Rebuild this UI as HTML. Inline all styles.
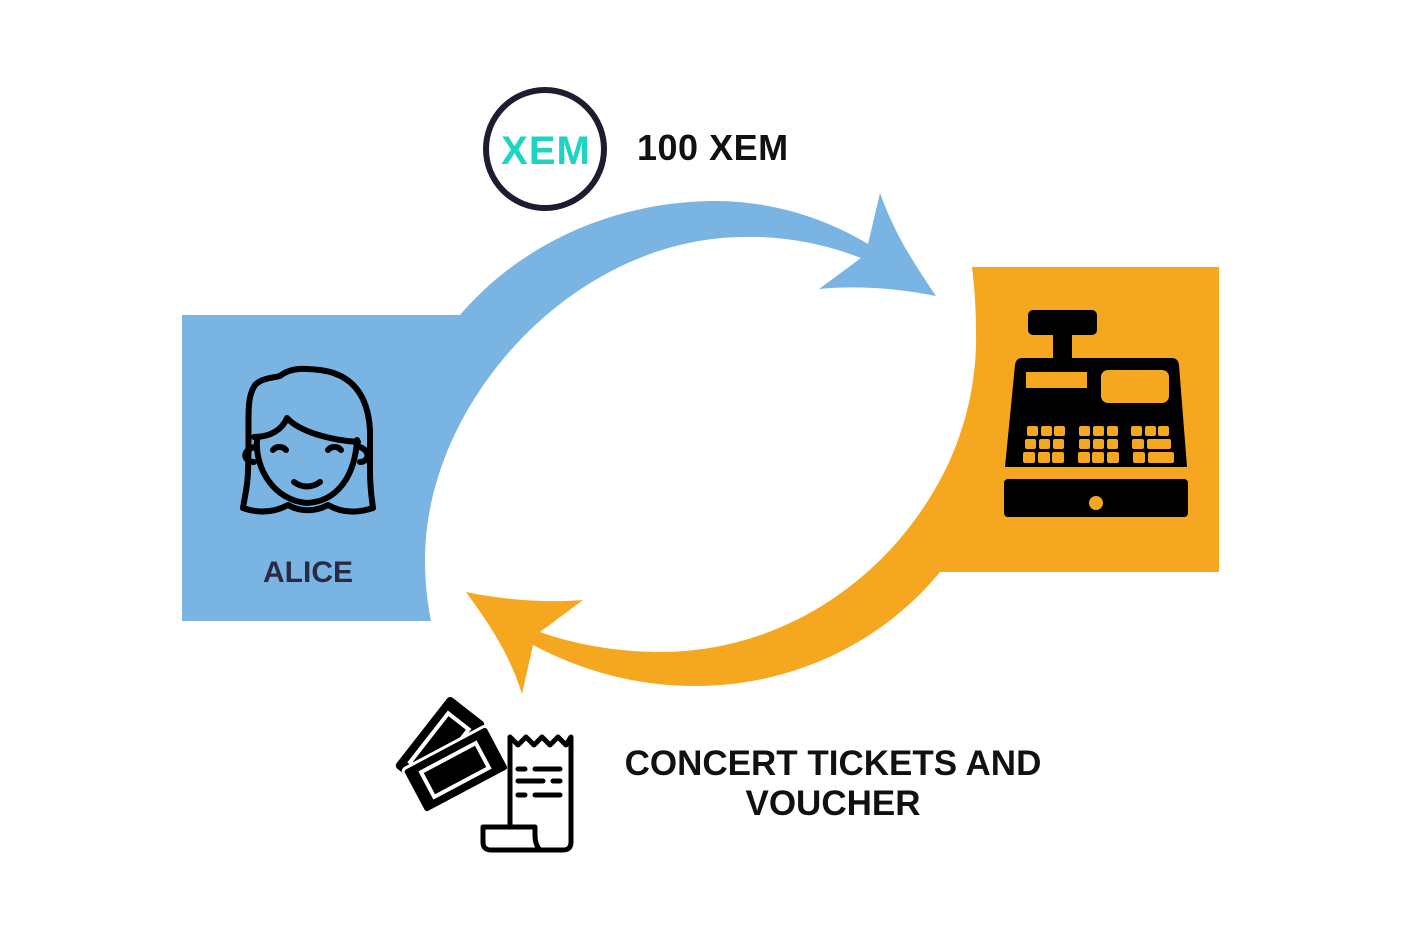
<!DOCTYPE html>
<html><head><meta charset="utf-8"><style>
html,body{margin:0;padding:0;background:#fff;}
svg{display:block}
text{font-family:"Liberation Sans",sans-serif;}
</style></head><body>
<svg width="1402" height="939" viewBox="0 0 1402 939" xmlns="http://www.w3.org/2000/svg">
<path fill="#7ab4e3" d="M182,315 L460,315 C520,245 610,203 710,201 C770,200 825,218 868,244 L880,193 C895,235 915,265 936,296 C900,289 860,285 819,289 L861,258 C825,244 785,236 745,237 C640,237 540,300 480,390 C440,450 425,510 425,560 C425,585 428,605 431,621 L182,621 Z"/>
<path fill="#f5a81f" d="M972,267 L1219,267 L1219,572 L940,572 C880,645 790,686 695,686 C635,686 580,670 533,645 L522,694 C510,655 490,625 466,592 C505,600 545,603 583,600 L540,632 C585,648 630,652 660,652 C790,652 900,570 950,460 C970,415 977,370 976,330 C976,305 974,285 972,267 Z"/>
<circle cx="545" cy="149" r="59" fill="#fff" stroke="#1e1c2e" stroke-width="6"/>
<text x="546" y="164" text-anchor="middle" font-size="40" font-weight="bold" fill="#1dd3c1" letter-spacing="1">XEM</text>
<text x="637" y="160" font-size="36" font-weight="bold" fill="#111" letter-spacing="0.5">100 XEM</text>
<g fill="none" stroke="#000" stroke-width="6" stroke-linecap="round" stroke-linejoin="round">
<path d="M248,470 C250,420 245,400 255,385 C262,378 272,378 280,376 C292,366 310,369 320,370 C352,374 368,395 370,430 L370,470 C370,490 372,500 373,508 C355,514 340,512 328,505 C315,512 300,512 288,505 C275,512 260,514 243,508 C245,495 248,485 248,470 Z"/>
<path d="M254,437 C270,437 282,430 287,418 C300,432 330,440 358,442"/>
<path d="M257,440 C255,470 275,500 306,503 C338,502 355,475 357,440"/>
<path d="M254,447 C240,452 245,462 254,462"/>
<path d="M360,447 C372,452 368,462 360,462"/>
<path d="M273,450 C276,446 283,446 286,450"/>
<path d="M328,450 C331,446 338,446 341,450"/>
<path d="M294,482 C302,488 312,488 320,482"/>
</g>
<text x="308" y="582" text-anchor="middle" font-size="30" font-weight="bold" fill="#2a2a45">ALICE</text>
<g fill="#000">
<rect x="1028" y="310" width="69" height="25" rx="5"/>
<rect x="1053" y="333" width="19" height="27"/>
<path d="M1022,358 L1172,358 Q1178,358 1179,365 L1187,467 L1005,467 L1015,365 Q1016,358 1022,358 Z"/>
<rect x="1004" y="479" width="184" height="38" rx="4"/>
</g>
<g fill="#f5a81f">
<rect x="1026" y="372" width="61" height="16"/>
<rect x="1101" y="370" width="68" height="33" rx="7"/>
<circle cx="1096" cy="503" r="7"/>
<g>
<rect x="1027" y="426" width="11" height="10" rx="2"/><rect x="1041" y="426" width="11" height="10" rx="2"/><rect x="1054" y="426" width="11" height="10" rx="2"/>
<rect x="1025" y="439" width="11" height="10" rx="2"/><rect x="1039" y="439" width="11" height="10" rx="2"/><rect x="1053" y="439" width="11" height="10" rx="2"/>
<rect x="1023" y="452" width="12" height="11" rx="2"/><rect x="1038" y="452" width="12" height="11" rx="2"/><rect x="1052" y="452" width="12" height="11" rx="2"/>
<rect x="1079" y="426" width="11" height="10" rx="2"/><rect x="1093" y="426" width="11" height="10" rx="2"/><rect x="1107" y="426" width="11" height="10" rx="2"/>
<rect x="1079" y="439" width="11" height="10" rx="2"/><rect x="1093" y="439" width="11" height="10" rx="2"/><rect x="1107" y="439" width="11" height="10" rx="2"/>
<rect x="1078" y="452" width="12" height="11" rx="2"/><rect x="1092" y="452" width="12" height="11" rx="2"/><rect x="1107" y="452" width="12" height="11" rx="2"/>
<rect x="1131" y="426" width="11" height="10" rx="2"/><rect x="1145" y="426" width="11" height="10" rx="2"/><rect x="1158" y="426" width="11" height="10" rx="2"/>
<rect x="1132" y="439" width="12" height="10" rx="2"/><rect x="1147" y="439" width="24" height="10" rx="2"/>
<rect x="1133" y="452" width="12" height="11" rx="2"/><rect x="1148" y="452" width="26" height="11" rx="2"/>
</g>
</g>
<g transform="rotate(-52 440 745)">
<rect x="395" y="722" width="90" height="46" rx="4" fill="#000"/>
<rect x="408" y="732" width="62" height="26" fill="none" stroke="#fff" stroke-width="4"/>
</g>
<g transform="rotate(-28 455 770)">
<rect x="408" y="745" width="96" height="50" rx="4" fill="#000" stroke="#fff" stroke-width="3"/>
<rect x="424" y="756" width="62" height="28" fill="none" stroke="#fff" stroke-width="4"/>
</g>
<g fill="none" stroke="#000" stroke-width="5" stroke-linejoin="round" stroke-linecap="round">
<path d="M510,827 L510,737 L518,745 L526,737 L534,745 L542,737 L550,745 L558,737 L566,745 L571,737 L571,842 Q571,850 563,850 L540,850"/>
<path d="M510,827 L483,827 L483,842 Q483,850 491,850 L540,850 Q535,845 535,835 L535,827 L510,827"/>
<path d="M518,769 L525,769 M535,769 L560,769 M518,781 L543,781 M553,781 L560,781 M518,795 L525,795 M535,795 L560,795"/>
</g>
<text x="833" y="775" text-anchor="middle" font-size="35" font-weight="bold" fill="#111">CONCERT TICKETS AND</text>
<text x="833" y="815" text-anchor="middle" font-size="35" font-weight="bold" fill="#111">VOUCHER</text>
</svg>
</body></html>
